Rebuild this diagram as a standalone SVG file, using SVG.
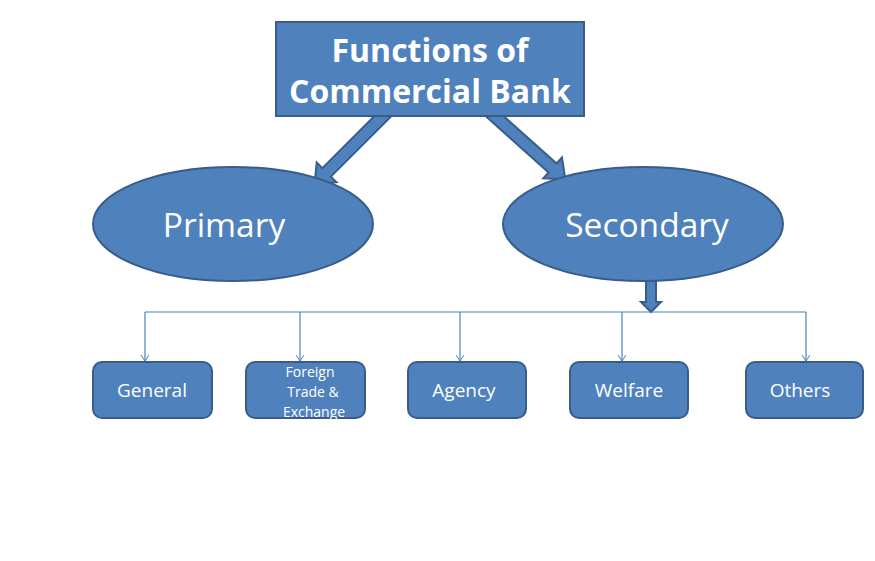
<svg xmlns="http://www.w3.org/2000/svg" width="875" height="561" viewBox="0 0 875 561">
<style>
.shape{fill:#4F81BD;stroke:#385D8A;stroke-width:2}
.t{fill:#FFFFFF;font-family:"Open Sans","Liberation Sans",sans-serif;text-anchor:middle;dominant-baseline:central}
.title{font-weight:bold;font-size:32px}
.big{font-size:33.5px}
.small{font-size:19px}
.tiny{font-size:14px}
.conn{fill:none;stroke:#4A7EBB;stroke-width:1.2}
</style>
<defs>
<marker id="ah" markerWidth="10" markerHeight="10" refX="7" refY="4" orient="auto" markerUnits="userSpaceOnUse">
<path d="M1,0 L7,4 L1,8" fill="none" stroke="#4A7EBB" stroke-width="1"/>
</marker>
</defs>
<rect width="875" height="561" fill="#FFFFFF"/>
<g id="connectors">
<polygon class="shape" transform="translate(386,113) rotate(135)" points="0,-6 84,-6 84,-14 101,0 84,14 84,6 0,6"/>
<polygon class="shape" transform="translate(490,112) rotate(41.8)" points="0,-6 84,-6 84,-14 101,0 84,14 84,6 0,6"/>
<polygon class="shape" points="646,281 656,281 656,302 661,302 651,312 641,302 646,302"/>
<path class="conn" d="M145,312 H806"/>
<path class="conn" d="M145,312 V361" marker-end="url(#ah)"/>
<path class="conn" d="M300,312 V361" marker-end="url(#ah)"/>
<path class="conn" d="M460,312 V361" marker-end="url(#ah)"/>
<path class="conn" d="M622,312 V361" marker-end="url(#ah)"/>
<path class="conn" d="M806,312 V361" marker-end="url(#ah)"/>
</g>
<g id="title">
<rect class="shape" x="276" y="22" width="308" height="94"/>
<text class="t title" x="430" y="49">Functions of</text>
<text class="t title" x="430" y="90">Commercial Bank</text>
</g>
<g id="primary">
<ellipse class="shape" cx="233" cy="224" rx="140" ry="57"/>
<text class="t big" x="224" y="224">Primary</text>
</g>
<g id="secondary">
<ellipse class="shape" cx="643" cy="224" rx="140" ry="57"/>
<text class="t big" x="647" y="224">Secondary</text>
</g>
<g id="general">
<rect class="shape" x="93" y="362" width="119" height="56" rx="9"/>
<text class="t small" x="152" y="390">General</text>
</g>
<g id="foreign">
<rect class="shape" x="246" y="362" width="119" height="56" rx="9"/>
<text class="t tiny" x="310" y="371">Foreign</text>
<text class="t tiny" x="313" y="391">Trade &amp;</text>
<text class="t tiny" x="314" y="411">Exchange</text>
</g>
<g id="agency">
<rect class="shape" x="408" y="362" width="118" height="56" rx="9"/>
<text class="t small" x="464" y="390">Agency</text>
</g>
<g id="welfare">
<rect class="shape" x="570" y="362" width="118" height="56" rx="9"/>
<text class="t small" x="629" y="390">Welfare</text>
</g>
<g id="others">
<rect class="shape" x="746" y="362" width="117" height="56" rx="9"/>
<text class="t small" x="800" y="390">Others</text>
</g>
</svg>
